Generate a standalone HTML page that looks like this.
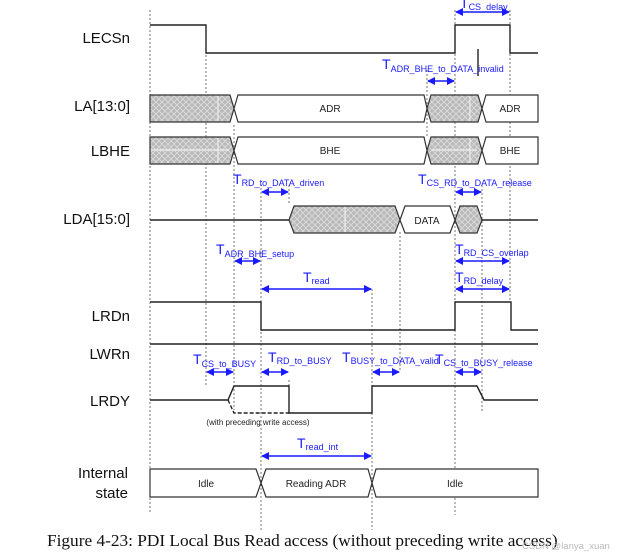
<!DOCTYPE html>
<html><head><meta charset="utf-8"><style>
html,body{margin:0;padding:0;background:#fff;width:618px;height:556px;overflow:hidden}
svg{display:block}
.lb{font-family:"Liberation Sans",sans-serif;font-size:15px;fill:#111;text-anchor:end}
.bt{font-family:"Liberation Sans",sans-serif;font-size:10px;fill:#222;text-anchor:middle}
.bl{font-family:"Liberation Sans",sans-serif;fill:#1a1aff}
.T{font-size:14px}.s{font-size:9px}
.d{stroke:#555;stroke-width:.8;stroke-dasharray:2,2;fill:none}
.w{stroke:#222;stroke-width:1.4;fill:none}
.bus{stroke:#333;stroke-width:1.2;fill:#fff}
.h{stroke:#333;stroke-width:1.2;fill:url(#hat)}
.ar{stroke:#1a1aff;stroke-width:1.4;marker-start:url(#ma);marker-end:url(#mb)}
</style></head><body>
<svg width="618" height="556" viewBox="0 0 618 556">
<defs>
<pattern id="hat" width="6" height="6" patternUnits="userSpaceOnUse">
<rect width="6" height="6" fill="#b8b8b8"/>
<path d="M0 0L6 6M6 0L0 6" stroke="#d8d8d8" stroke-width="1"/>
</pattern>
<marker id="mb" markerWidth="8" markerHeight="8" refX="7" refY="4" orient="auto" markerUnits="userSpaceOnUse"><path d="M0 0L8 4L0 8z" fill="#1a1aff"/></marker>
<marker id="ma" markerWidth="8" markerHeight="8" refX="1" refY="4" orient="auto" markerUnits="userSpaceOnUse"><path d="M8 0L0 4L8 8z" fill="#1a1aff"/></marker>
</defs>
<path class="d" d="M150 10V512 M206 55V385 M234 125V410 M261 180V530 M289 185V205 M289 380V415 M372 289V530 M400 232V372 M427 70V137 M455 10V515 M482 185V412 M510 10V300"/>
<text class="lb" x="130" y="43">LECSn</text>
<text class="lb" x="130" y="111">LA[13:0]</text>
<text class="lb" x="130" y="156">LBHE</text>
<text class="lb" x="130" y="224">LDA[15:0]</text>
<text class="lb" x="130" y="321">LRDn</text>
<text class="lb" x="130" y="359">LWRn</text>
<text class="lb" x="130" y="406">LRDY</text>
<text class="lb" x="128" y="478">Internal</text>
<text class="lb" x="128" y="498">state</text>
<path class="w" d="M150 25H206V53H455V25H510V53H538"/>
<path class="w" d="M478 49V76"/>
<path class="h" d="M150 95H230L234 108.5L230 122H150Z"/>
<path class="bus" d="M238 95H424L427 108.5L424 122H238L234 108.5Z"/>
<path class="h" d="M431 95H478L482 108.5L478 122H431L427 108.5Z"/>
<path class="bus" d="M486 95H538V122H486L482 108.5Z"/>
<path d="M218 96V121M470 96V121" stroke="#eee" stroke-width="1.2"/>
<text class="bt" x="330" y="112">ADR</text><text class="bt" x="510" y="112">ADR</text>
<path class="h" d="M150 137H230L234 150.5L230 164H150Z"/>
<path class="bus" d="M238 137H424L427 150.5L424 164H238L234 150.5Z"/>
<path class="h" d="M431 137H478L482 150.5L478 164H431L427 150.5Z"/>
<path class="bus" d="M486 137H538V164H486L482 150.5Z"/>
<path d="M218 138V163M470 138V163M151 150H229M432 150H477" stroke="#eee" stroke-width="1.2"/>
<text class="bt" x="330" y="154">BHE</text><text class="bt" x="510" y="154">BHE</text>
<path class="w" d="M150 220H289"/>
<path class="h" d="M289 220L294 206H395L400 220L395 233H294Z"/>
<path class="bus" d="M400 220L405 206H450L455 220L450 233H405Z"/>
<path class="h" d="M455 220L460 206H477L482 220L477 233H460Z"/>
<path class="w" d="M482 220H538"/>
<path d="M345 207V232" stroke="#eee" stroke-width="1.2"/>
<text class="bt" x="427" y="224">DATA</text>
<path class="w" d="M150 302H261V330H455V302H511V330H538"/>
<path class="w" d="M150 344H538"/>
<path class="w" d="M150 400H228L234 386H289V413H372V386H477L484 400H538"/>
<path d="M228 400L234 413H289" stroke="#222" stroke-width="1.4" stroke-dasharray="4,2" fill="none"/>
<text class="bt" x="258" y="425" style="font-size:8px">(with preceding write access)</text>
<path class="bus" d="M150 469H256L261 483L256 497H150Z"/>
<path class="bus" d="M266 469H368L372 483L368 497H266L261 483Z"/>
<path class="bus" d="M376 469H538V497H376L372 483Z"/>
<text class="bt" x="206" y="487">Idle</text><text class="bt" x="316" y="487">Reading ADR</text><text class="bt" x="455" y="487">Idle</text>
<line class="ar" x1="456" y1="12" x2="509" y2="12"/>
<text class="bl" x="460" y="8"><tspan class="T">T</tspan><tspan class="s" dy="2">CS_delay</tspan></text>
<line class="ar" x1="428" y1="81" x2="454" y2="81"/>
<text class="bl" x="382" y="69"><tspan class="T">T</tspan><tspan class="s" dy="3">ADR_BHE_to_DATA_invalid</tspan></text>
<line class="ar" x1="262" y1="192" x2="288" y2="192"/>
<text class="bl" x="233" y="184"><tspan class="T">T</tspan><tspan class="s" dy="2">RD_to_DATA_driven</tspan></text>
<line class="ar" x1="456" y1="192" x2="481" y2="192"/>
<text class="bl" x="418" y="184"><tspan class="T">T</tspan><tspan class="s" dy="2">CS_RD_to_DATA_release</tspan></text>
<line class="ar" x1="235" y1="261" x2="260" y2="261"/>
<text class="bl" x="216" y="254"><tspan class="T">T</tspan><tspan class="s" dy="3">ADR_BHE_setup</tspan></text>
<line class="ar" x1="456" y1="261" x2="509" y2="261"/>
<text class="bl" x="455" y="254"><tspan class="T">T</tspan><tspan class="s" dy="2">RD_CS_overlap</tspan></text>
<line class="ar" x1="262" y1="289" x2="371" y2="289"/>
<text class="bl" x="303" y="282"><tspan class="T">T</tspan><tspan class="s" dy="2">read</tspan></text>
<line class="ar" x1="456" y1="289" x2="509" y2="289"/>
<text class="bl" x="455" y="282"><tspan class="T">T</tspan><tspan class="s" dy="2">RD_delay</tspan></text>
<line class="ar" x1="207" y1="372" x2="233" y2="372"/>
<text class="bl" x="193" y="364"><tspan class="T">T</tspan><tspan class="s" dy="3">CS_to_BUSY</tspan></text>
<line class="ar" x1="262" y1="372" x2="288" y2="372"/>
<text class="bl" x="268" y="362"><tspan class="T">T</tspan><tspan class="s" dy="2">RD_to_BUSY</tspan></text>
<line class="ar" x1="373" y1="372" x2="399" y2="372"/>
<text class="bl" x="342" y="362"><tspan class="T">T</tspan><tspan class="s" dy="2">BUSY_to_DATA_valid</tspan></text>
<line class="ar" x1="456" y1="372" x2="481" y2="372"/>
<text class="bl" x="435" y="364"><tspan class="T">T</tspan><tspan class="s" dy="2">CS_to_BUSY_release</tspan></text>
<line class="ar" x1="262" y1="456" x2="371" y2="456"/>
<text class="bl" x="297" y="448"><tspan class="T">T</tspan><tspan class="s" dy="2">read_int</tspan></text>
<text x="47" y="546" style="font-family:'Liberation Serif',serif;font-size:17.3px;fill:#111">Figure 4-23: PDI Local Bus Read access (without preceding write access)</text>
<text x="522" y="549" style="font-family:'Liberation Sans',sans-serif;font-size:9.5px;fill:#bbb">CSDN @lanya_xuan</text>
</svg>
</body></html>
